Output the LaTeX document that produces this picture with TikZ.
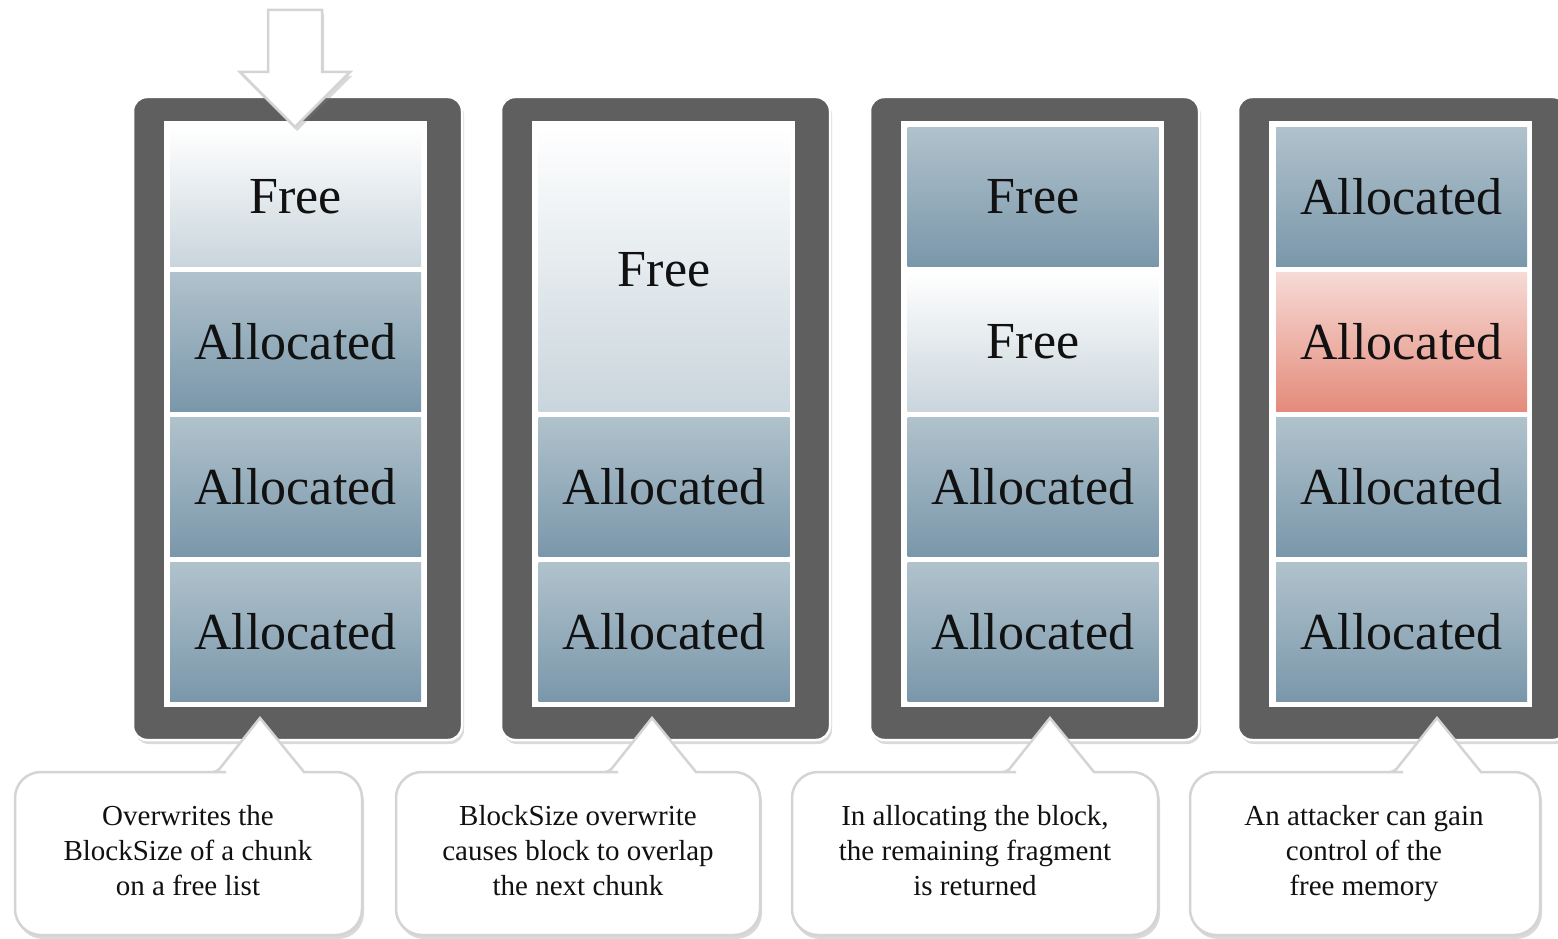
\documentclass[tikz,border=0pt]{standalone}
\usepackage{fontspec}
\setmainfont{Liberation Serif}
\usetikzlibrary{shadows}
\definecolor{paneldark}{HTML}{5F5F5F}
\definecolor{alloctop}{HTML}{B0C2CC}
\definecolor{allocbot}{HTML}{7A97AA}
\definecolor{freebot}{HTML}{C9D5DC}
\definecolor{redtop}{HTML}{F6DAD5}
\definecolor{redbot}{HTML}{E48B7B}
\definecolor{coline}{HTML}{D4D4D4}
\definecolor{txt}{HTML}{111111}
\tikzset{
  panel/.style={fill=paneldark, draw=white, line width=2.5pt, rounded corners=14pt,
     drop shadow={shadow xshift=2pt, shadow yshift=-4pt, opacity=0.3}},
  frame/.style={fill=white},
  cell/.style={minimum width=251pt, minimum height=139pt, inner sep=0pt,
     font=\fontsize{52}{60}\selectfont, text=txt},
  alloc/.style={cell, top color=alloctop, bottom color=allocbot},
  freec/.style={cell, top color=white, bottom color=freebot},
  redc/.style={cell, top color=redtop, bottom color=redbot},
  callout/.style={fill=white, draw=coline, line width=2.5pt,
     drop shadow={shadow xshift=2pt, shadow yshift=-4pt, opacity=0.3}},
  cotext/.style={align=center, font=\fontsize{29}{35}\selectfont, text=txt, inner sep=0pt},
  bigarrow/.style={fill=white, draw=coline, line width=2.5pt,
     drop shadow={shadow xshift=2pt, shadow yshift=-4pt, opacity=0.3}}
}
\begin{document}
\begin{tikzpicture}[x=1pt, y=-1pt]
\useasboundingbox (0,0) rectangle (1558,939);
% panels
\foreach \dx in {0,368,737,1105} {
  \path[panel] (133+\dx,97) rectangle (462+\dx,740);
  \path[frame] (164+\dx,121) rectangle (427+\dx,707);
}
% panel 1
\node[freec]  (a1) at (295.5,197) {Free};
\node[alloc]  (a2) at (295.5,342) {Allocated};
\node[alloc]  (a3) at (295.5,487) {Allocated};
\node[alloc]  (a4) at (295.5,632) {Allocated};
% panel 2
\node[freec, minimum height=284pt] (b1) at (664,269.5) {Free};
\node[alloc]  (b3) at (664,487) {Allocated};
\node[alloc]  (b4) at (664,632) {Allocated};
% panel 3
\node[alloc]  (c1) at (1033,197) {Free};
\node[freec]  (c2) at (1033,342) {Free};
\node[alloc]  (c3) at (1033,487) {Allocated};
\node[alloc]  (c4) at (1033,632) {Allocated};
% panel 4
\node[alloc]  (d1) at (1401.5,197) {Allocated};
\node[redc]   (d2) at (1401.5,342) {Allocated};
\node[alloc]  (d3) at (1401.5,487) {Allocated};
\node[alloc]  (d4) at (1401.5,632) {Allocated};
% top arrow
\path[bigarrow] (268,10) -- (322,10) -- (322,72) -- (350,72) -- (295,127) -- (240,72) -- (268,72) -- cycle;
% callouts
\foreach \ax/\xa/\xb in {260/15/362, 652/396/760, 1050/792/1158, 1437/1190/1540} {
  \path[callout] (\ax,718) -- (\ax+44,772) [rounded corners=4pt] -- (\ax+60,772)
     [rounded corners=26pt] -- (\xb,772) -- (\xb,935) -- (\xa,935) -- (\xa,772) -- (\ax-60,772)
     [rounded corners=4pt] -- (\ax-43,772) -- (\ax-21.5,745) [sharp corners] -- cycle;
}
\node[cotext] (t1) at (188,853) {\strut Overwrites the\\BlockSize of a chunk\\on a free list\strut};
\node[cotext] (t2) at (578,853) {\strut BlockSize overwrite\\causes block to overlap\\the next chunk\strut};
\node[cotext] (t3) at (975,853) {\strut In allocating the block,\\the remaining fragment\\is returned\strut};
\node[cotext] (t4) at (1364,853) {\strut An attacker can gain\\control of the\\free memory\strut};
\end{tikzpicture}
\end{document}
